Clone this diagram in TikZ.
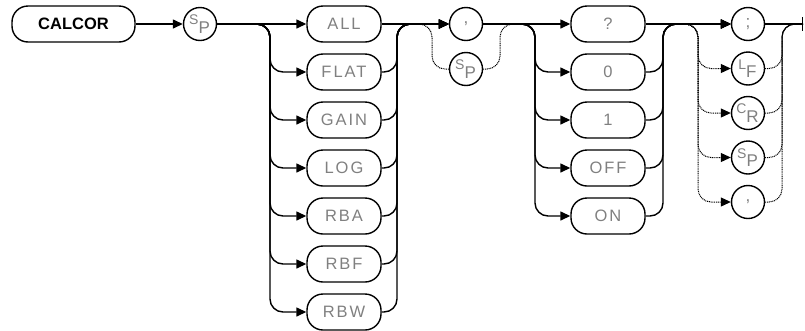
\documentclass[tikz,border=0pt]{standalone}
\usepackage{fontspec}
\usetikzlibrary{arrows.meta,calc}
\newfontfamily\keyfont[LetterSpace=12]{Liberation Sans}
\newfontfamily\cmdfont{Liberation Sans}
\definecolor{KeyClr}{rgb}{0.5,0.5,0.5}
\newcommand\ctrlch[2]{\kern-1pt\raisebox{3.5pt}{\fontsize{14}{16}\selectfont#1}\raisebox{-5pt}{#2}}

\begin{document}
\begin{tikzpicture}[x=1pt,y=-1pt,
  kw/.style={draw,rounded corners=16pt,line width=1.4pt,minimum width=74pt,minimum height=36pt,inner sep=0pt,
    font=\keyfont\fontsize{16.5}{18}\selectfont,text=KeyClr},
  cmd/.style={kw,minimum width=123pt,font=\cmdfont\bfseries\fontsize{16.5}{18}\selectfont,text=black},
  chr/.style={draw,circle,line width=1.4pt,minimum size=33pt,inner sep=0pt,
    font=\keyfont\fontsize{17}{18}\selectfont,text=KeyClr},
  flow/.style={line width=1.4pt,rounded corners=13pt},
  opt/.style={line width=1pt,dash pattern=on 1pt off 0.8pt,rounded corners=13pt},
  fwd/.style={-{Triangle[length=10pt,width=9pt]}}]
\useasboundingbox (0,0) rectangle (805,330);

\node[cmd] (calcor) at (73.5,24) {CALCOR};
\node[chr] (sp1) at (200,24) {\ctrlch{S}{P}};

% first group
\foreach \name/\txt [count=\i from 0] in {all/ALL,flat/FLAT,gain/GAIN,log/LOG,rba/RBA,rbf/RBF,rbw/RBW}
  \node[kw] (\name) at (344,{24+48*\i}) {\txt};

\node[chr] (comma) at (466,24) {,};
\node[chr] (sp2) at (466,69) {\ctrlch{S}{P}};

% second group
\foreach \name/\txt [count=\i from 0] in {qry/?,zero/0,one/1,off/OFF,on/ON}
  \node[kw] (\name) at (608,{24+48*\i}) {\txt};

% terminators
\node[chr] (semi) at (748,24) {;};
\node[chr] (lf) at (748,68.5) {\ctrlch{L}{F}};
\node[chr] (cr) at (748,113) {\ctrlch{C}{R}};
\node[chr] (sp3) at (748,157.5) {\ctrlch{S}{P}};
\node[chr] (comma2) at (748,202) {,};

\coordinate (b1) at (270,24);
\coordinate (m1) at (397,24);
\coordinate (b1o) at (432,24);
\coordinate (m1o) at (500,24);
\coordinate (b2) at (535,24);
\coordinate (m2) at (663,24);
\coordinate (b3) at (698,24);
\coordinate (m3) at (782,24);
\coordinate (end) at (803,24);

% optional paths
\draw[opt] (m1) -- (b1o) |- (sp2.west);
\draw[opt] (sp2.east) -| (m1o) -- (b2);
\foreach \name in {lf,cr,sp3,comma2} {
  \draw[opt,fwd] (m2) -- (b3) |- (\name.west);
  \draw[opt] (\name.east) -| (m3) -- (end);
}

% main paths
\draw[flow,fwd] (calcor) -- (sp1);
\draw[flow,fwd] (sp1) -- (all);
\foreach \name in {flat,gain,log,rba,rbf,rbw} {
  \draw[flow,fwd] (sp1.east) -- (b1) |- (\name.west);
  \draw[flow,fwd] (\name.east) -| (m1) -- (comma.west);
}
\draw[flow,fwd] (all) -- (comma);
\draw[flow,fwd] (comma) -- (qry);
\foreach \name in {zero,one,off,on} {
  \draw[flow,fwd] (comma.east) -- (b2) |- (\name.west);
  \draw[flow,fwd] (\name.east) -| (m2) -- (semi.west);
}
\draw[flow,fwd] (qry) -- (semi);
\draw[flow,-{Bar[width=14pt]}] (semi) -- (end);
\end{tikzpicture}
\end{document}
